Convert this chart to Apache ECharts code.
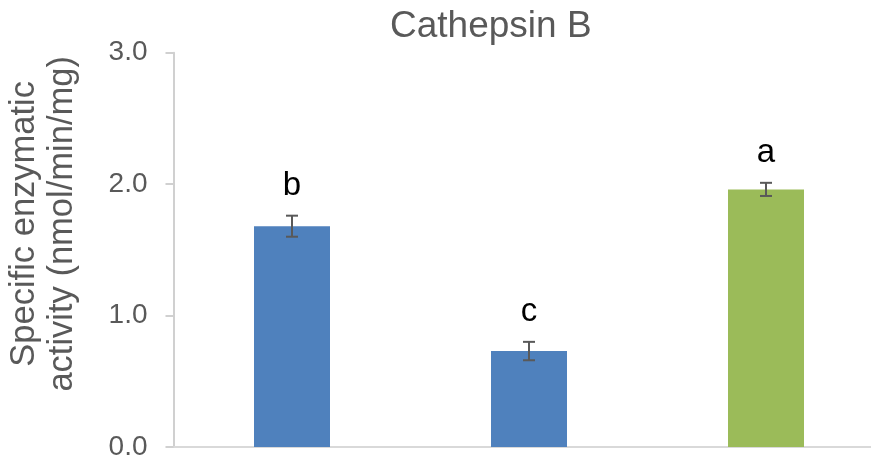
<!DOCTYPE html>
<html>
<head>
<meta charset="utf-8">
<script src="https://cdn.jsdelivr.net/npm/echarts@6/dist/echarts.min.js"></script>
<style>
  html, body { margin: 0; padding: 0; background: #fff; }
  #chart { width: 871px; height: 463px; }
</style>
</head>
<body>
<div id="chart"></div>
<script>
// Cathepsin B specific activity per group, with standard error and significance letters
const categories = ['G1', 'G2', 'G3'];
const means = [1.68, 0.73, 1.96];
const errors = [0.08, 0.07, 0.05];
const letters = ['b', 'c', 'a'];
const barColors = ['#4F81BD', '#4F81BD', '#9BBB59'];
const yTicks = [0, 1, 2, 3];

const chart = echarts.init(document.getElementById('chart'), null, { renderer: 'canvas' });

const font = 'Liberation Sans, Arial, sans-serif';

const barData = means.map((v, i) => ({ value: v, itemStyle: { color: barColors[i] } }));
const errData = means.map((v, i) => [i, v - errors[i], v + errors[i], letters[i]]);

chart.setOption({
  animation: false,
  textStyle: { fontFamily: font },
  title: {
    text: 'Cathepsin B',
    left: 390,
    top: 8,
    padding: 0,
    textStyle: { fontSize: 37, fontWeight: 'normal', color: '#595959', fontFamily: font }
  },
  // the plot area runs a little past the right edge of the canvas
  grid: { left: 173.5, width: 711, top: 52.7, bottom: 16, outerBoundsMode: 'none', containLabel: false },
  xAxis: {
    type: 'category',
    data: categories,
    axisLine: { lineStyle: { color: '#d9d9d9', width: 2 } },
    axisTick: { show: false },
    axisLabel: { show: false }
  },
  yAxis: {
    type: 'value',
    min: yTicks[0],
    max: yTicks[yTicks.length - 1],
    interval: 1,
    name: 'Specific enzymatic\nactivity (nmol/min/mg)',
    nameLocation: 'middle',
    nameRotate: 90,
    nameGap: 92,
    nameTextStyle: { fontSize: 34.5, color: '#595959', lineHeight: 38, padding: [0, 0, 0, 52], fontFamily: font },
    axisLine: { show: true, lineStyle: { color: '#d0d0d0', width: 2 } },
    axisTick: { show: true, inside: false, length: 8, lineStyle: { color: '#d0d0d0', width: 2 } },
    splitLine: { show: false },
    axisLabel: {
      margin: 26,
      fontSize: 28,
      color: '#595959',
      fontFamily: font,
      formatter: v => v.toFixed(1)
    }
  },
  series: [
    {
      type: 'bar',
      data: barData,
      barWidth: 76
    },
    {
      type: 'custom',
      data: errData,
      z: 10,
      renderItem: function (params, api) {
        const x = api.value(0);
        const lo = api.coord([x, api.value(1)]);
        const hi = api.coord([x, api.value(2)]);
        const half = 6;
        const stroke = { stroke: '#595959', lineWidth: 2 };
        return {
          type: 'group',
          children: [
            { type: 'line', shape: { x1: hi[0], y1: hi[1], x2: lo[0], y2: lo[1] }, style: stroke },
            { type: 'line', shape: { x1: hi[0] - half, y1: hi[1], x2: hi[0] + half, y2: hi[1] }, style: stroke },
            { type: 'line', shape: { x1: lo[0] - half, y1: lo[1], x2: lo[0] + half, y2: lo[1] }, style: stroke },
            {
              type: 'text',
              x: hi[0],
              y: hi[1] - 13,
              style: {
                text: api.value(3),
                fill: '#000',
                fontSize: 33,
                fontFamily: font,
                align: 'center',
                verticalAlign: 'bottom'
              }
            }
          ]
        };
      }
    }
  ]
});
</script>
</body>
</html>
